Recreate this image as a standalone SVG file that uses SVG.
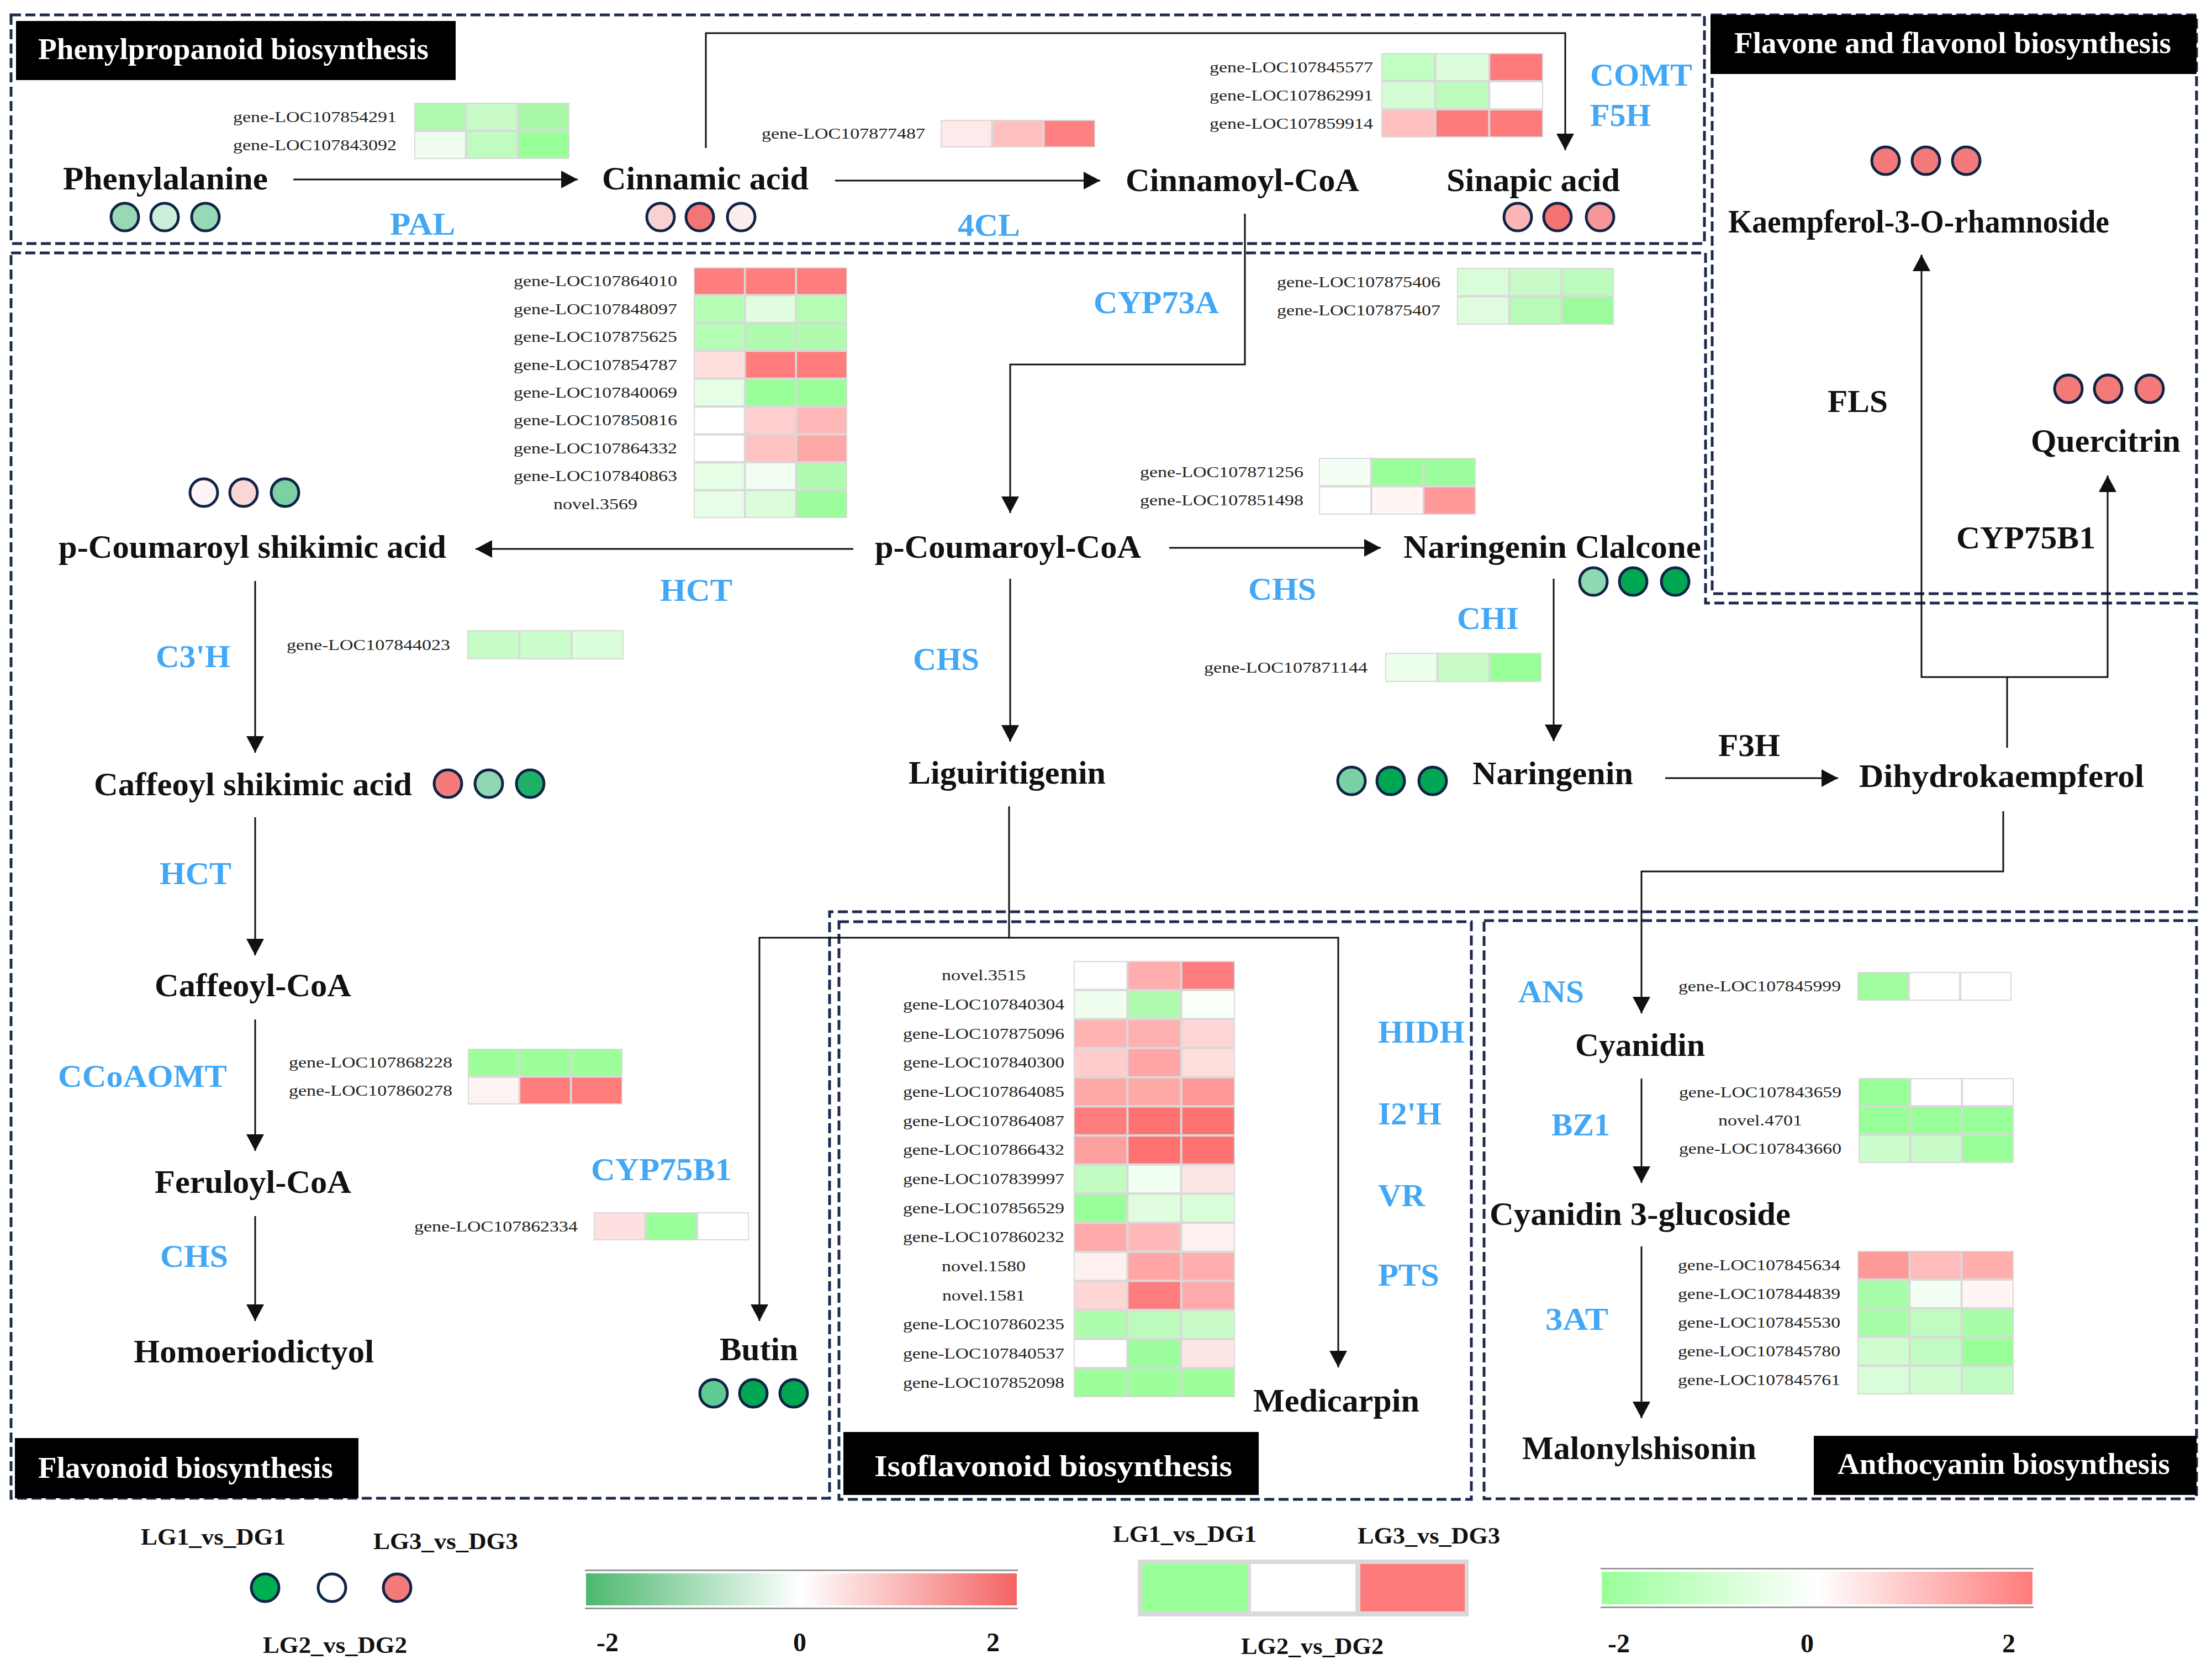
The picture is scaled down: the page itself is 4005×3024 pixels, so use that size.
<svg xmlns="http://www.w3.org/2000/svg" width="4005" height="3024" viewBox="0 0 4005 3024">
<style>
.box{fill:none;stroke:#1b2a4e;stroke-width:5;stroke-dasharray:18 8}
.tb{fill:#000}
.tt{font-family:"Liberation Serif",serif;font-weight:bold;font-size:54px;fill:#fff}
.cp{font-family:"Liberation Serif",serif;font-weight:bold;font-size:60px;fill:#111}
.en{font-family:"Liberation Serif",serif;font-weight:bold;font-size:58px;fill:#42a7f5}
.ek{font-family:"Liberation Serif",serif;font-weight:bold;font-size:58px;fill:#111}
.gl{font-family:"Liberation Serif",serif;font-size:27px;fill:#222;text-anchor:middle}
.lg{font-family:"Liberation Serif",serif;font-weight:bold;font-size:42px;fill:#111}
.nm{font-family:"Liberation Serif",serif;font-weight:bold;font-size:48px;fill:#111;text-anchor:middle}
.c{stroke:#0f2447;stroke-width:5}
.ln{fill:none;stroke:#111;stroke-width:3}
.ar{marker-end:url(#ah)}
.hb{fill:#d9d9d9}
</style>
<defs>
<marker id="ah" markerUnits="userSpaceOnUse" markerWidth="30" markerHeight="32" refX="30" refY="16" orient="auto" viewBox="0 0 30 32"><path d="M0,0 L30,16 L0,32 Z" fill="#111"/></marker>
<linearGradient id="g1" x1="0" x2="1" y1="0" y2="0"><stop offset="0" stop-color="#4cb86e"/><stop offset="0.5" stop-color="#ffffff"/><stop offset="1" stop-color="#f46464"/></linearGradient>
<linearGradient id="g2" x1="0" x2="1" y1="0" y2="0"><stop offset="0" stop-color="#99ff99"/><stop offset="0.5" stop-color="#ffffff"/><stop offset="1" stop-color="#ff7b7b"/></linearGradient>
</defs>
<rect width="4005" height="3024" fill="#fff"/>

<!-- pathway boxes -->
<g id="boxes">
<rect class="box" x="20" y="27" width="3066" height="414"/>
<rect class="box" x="3100" y="27" width="877" height="1048"/>
<path class="box" d="M20,458 H3088 V1092 H3977 V1651 H1502 V2713 H20 Z"/>
<rect class="box" x="1519" y="1669" width="1145" height="1046"/>
<rect class="box" x="2687" y="1667" width="1290" height="1047"/>
</g>

<!-- titles -->
<g id="title-phenylpropanoid"><rect class="tb" x="29" y="38" width="796" height="107"/><text class="tt" x="69" y="107" textLength="707" lengthAdjust="spacingAndGlyphs">Phenylpropanoid biosynthesis</text></g>
<g id="title-flavone"><rect class="tb" x="3097" y="27" width="880" height="107"/><text class="tt" x="3140" y="96" textLength="791" lengthAdjust="spacingAndGlyphs">Flavone and flavonol biosynthesis</text></g>
<g id="title-flavonoid"><rect class="tb" x="27" y="2604" width="622" height="109"/><text class="tt" x="69" y="2676" textLength="534" lengthAdjust="spacingAndGlyphs">Flavonoid biosynthesis</text></g>
<g id="title-isoflavonoid"><rect class="tb" x="1527" y="2593" width="752" height="114"/><text class="tt" x="1583" y="2673" textLength="648" lengthAdjust="spacingAndGlyphs">Isoflavonoid biosynthesis</text></g>
<g id="title-anthocyanin"><rect class="tb" x="3284" y="2600" width="693" height="107"/><text class="tt" x="3327" y="2669" textLength="602" lengthAdjust="spacingAndGlyphs">Anthocyanin biosynthesis</text></g>

<!-- connectors -->
<g id="connectors">
<path class="ln ar" d="M531,325 H1046"/>
<path class="ln ar" d="M1512,327 H1992"/>
<path class="ln ar" d="M1278,268 V60 H2834 V272"/>
<path class="ln ar" d="M2254,387 V660 H1829 V929"/>
<path class="ln ar" d="M1545,994 H861"/>
<path class="ln ar" d="M2117,992 H2500"/>
<path class="ln ar" d="M1829,1048 V1343"/>
<path class="ln ar" d="M2813,1048 V1342"/>
<path class="ln ar" d="M3015,1409 H3328"/>
<path class="ln" d="M3634,1354 V1226"/>
<path class="ln ar" d="M3634,1226 H3479 V461"/>
<path class="ln ar" d="M3634,1226 H3816 V861"/>
<path class="ln ar" d="M3627,1469 V1578 H2972 V1835"/>
<path class="ln ar" d="M1827,1460 V1698 H1375 V2392"/>
<path class="ln ar" d="M1827,1698 H2423 V2476"/>
<path class="ln ar" d="M462,1052 V1363"/>
<path class="ln ar" d="M462,1480 V1730"/>
<path class="ln ar" d="M462,1846 V2084"/>
<path class="ln ar" d="M462,2202 V2392"/>
<path class="ln ar" d="M2972,1953 V2142"/>
<path class="ln ar" d="M2972,2257 V2568"/>
</g>

<!-- compounds -->
<g id="phenylalanine"><text class="cp" x="114" y="343" textLength="371" lengthAdjust="spacingAndGlyphs">Phenylalanine</text>
<circle class="c" cx="226" cy="393" r="25" fill="#97d9b5"/><circle class="c" cx="298" cy="393" r="25" fill="#ccefdb"/><circle class="c" cx="372" cy="393" r="25" fill="#97d9b5"/></g>
<g id="cinnamic-acid"><text class="cp" x="1090" y="343" textLength="374" lengthAdjust="spacingAndGlyphs">Cinnamic acid</text>
<circle class="c" cx="1196" cy="393" r="25" fill="#f9d1d1"/><circle class="c" cx="1267" cy="393" r="25" fill="#f47575"/><circle class="c" cx="1342" cy="393" r="25" fill="#fcecec"/></g>
<g id="cinnamoyl-coa"><text class="cp" x="2038" y="346" textLength="423" lengthAdjust="spacingAndGlyphs">Cinnamoyl-CoA</text></g>
<g id="sinapic-acid"><text class="cp" x="2619" y="346" textLength="314" lengthAdjust="spacingAndGlyphs">Sinapic acid</text>
<circle class="c" cx="2748" cy="393" r="25" fill="#fbb5b5"/><circle class="c" cx="2820" cy="393" r="25" fill="#f47272"/><circle class="c" cx="2897" cy="393" r="25" fill="#f79696"/></g>
<g id="kaempferol"><text class="cp" x="3129" y="421" textLength="690" lengthAdjust="spacingAndGlyphs">Kaempferol-3-O-rhamnoside</text>
<circle class="c" cx="3414" cy="291" r="25" fill="#f47a7a"/><circle class="c" cx="3487" cy="291" r="25" fill="#f47a7a"/><circle class="c" cx="3560" cy="291" r="25" fill="#f47a7a"/></g>
<g id="quercitrin"><text class="cp" x="3677" y="818" textLength="271" lengthAdjust="spacingAndGlyphs">Quercitrin</text>
<circle class="c" cx="3745" cy="704" r="25" fill="#f47a7a"/><circle class="c" cx="3817" cy="704" r="25" fill="#f47a7a"/><circle class="c" cx="3892" cy="704" r="25" fill="#f47a7a"/></g>
<g id="p-coumaroyl-shikimic-acid"><text class="cp" x="106" y="1010" textLength="702" lengthAdjust="spacingAndGlyphs">p-Coumaroyl shikimic acid</text>
<circle class="c" cx="369" cy="892" r="25" fill="#fdf5f5"/><circle class="c" cx="441" cy="892" r="25" fill="#fad7d7"/><circle class="c" cx="516" cy="892" r="25" fill="#7dd0a2"/></g>
<g id="p-coumaroyl-coa"><text class="cp" x="1584" y="1010" textLength="482" lengthAdjust="spacingAndGlyphs">p-Coumaroyl-CoA</text></g>
<g id="naringenin-clalcone"><text class="cp" x="2541" y="1010" textLength="539" lengthAdjust="spacingAndGlyphs">Naringenin Clalcone</text>
<circle class="c" cx="2885" cy="1053" r="25" fill="#8ed8b2"/><circle class="c" cx="2957" cy="1053" r="25" fill="#00a651"/><circle class="c" cx="3033" cy="1053" r="25" fill="#00a651"/></g>
<g id="caffeoyl-shikimic-acid"><text class="cp" x="170" y="1440" textLength="576" lengthAdjust="spacingAndGlyphs">Caffeoyl shikimic acid</text>
<circle class="c" cx="811" cy="1419" r="25" fill="#f47a7a"/><circle class="c" cx="885" cy="1419" r="25" fill="#8fd8b2"/><circle class="c" cx="960" cy="1419" r="25" fill="#1fb067"/></g>
<g id="liguiritigenin"><text class="cp" x="1645" y="1419" textLength="357" lengthAdjust="spacingAndGlyphs">Liguiritigenin</text></g>
<g id="naringenin"><text class="cp" x="2666" y="1420" textLength="291" lengthAdjust="spacingAndGlyphs">Naringenin</text>
<circle class="c" cx="2447" cy="1414" r="25" fill="#79d1a3"/><circle class="c" cx="2518" cy="1414" r="25" fill="#00a651"/><circle class="c" cx="2594" cy="1414" r="25" fill="#00a651"/></g>
<g id="dihydrokaempferol"><text class="cp" x="3366" y="1425" textLength="516" lengthAdjust="spacingAndGlyphs">Dihydrokaempferol</text></g>
<g id="caffeoyl-coa"><text class="cp" x="280" y="1804" textLength="356" lengthAdjust="spacingAndGlyphs">Caffeoyl-CoA</text></g>
<g id="feruloyl-coa"><text class="cp" x="280" y="2160" textLength="356" lengthAdjust="spacingAndGlyphs">Feruloyl-CoA</text></g>
<g id="homoeriodictyol"><text class="cp" x="242" y="2467" textLength="435" lengthAdjust="spacingAndGlyphs">Homoeriodictyol</text></g>
<g id="butin"><text class="cp" x="1303" y="2463" textLength="142" lengthAdjust="spacingAndGlyphs">Butin</text>
<circle class="c" cx="1292" cy="2523" r="25" fill="#5fcb94"/><circle class="c" cx="1364" cy="2523" r="25" fill="#00a651"/><circle class="c" cx="1437" cy="2523" r="25" fill="#00a651"/></g>
<g id="medicarpin"><text class="cp" x="2269" y="2556" textLength="301" lengthAdjust="spacingAndGlyphs">Medicarpin</text></g>
<g id="cyanidin"><text class="cp" x="2852" y="1912" textLength="235" lengthAdjust="spacingAndGlyphs">Cyanidin</text></g>
<g id="cyanidin-3-glucoside"><text class="cp" x="2697" y="2218" textLength="545" lengthAdjust="spacingAndGlyphs">Cyanidin 3-glucoside</text></g>
<g id="malonylshisonin"><text class="cp" x="2756" y="2642" textLength="424" lengthAdjust="spacingAndGlyphs">Malonylshisonin</text></g>

<!-- enzymes with heatmaps -->
<g id="pal"><text class="en" x="706" y="425" textLength="118" lengthAdjust="spacingAndGlyphs">PAL</text>
<text class="gl" x="570" y="221" textLength="296" lengthAdjust="spacingAndGlyphs">gene-LOC107854291</text>
<text class="gl" x="570" y="272" textLength="296" lengthAdjust="spacingAndGlyphs">gene-LOC107843092</text>
<g transform="translate(750,186) scale(93.67,51)"><rect class="hb" width="3" height="2"/>
<rect x=".02" y=".04" width=".96" height=".92" fill="#b0f9b0"/><rect x="1.02" y=".04" width=".96" height=".92" fill="#c8fbc8"/><rect x="2.02" y=".04" width=".96" height=".92" fill="#a8f8a8"/>
<rect x=".02" y="1.04" width=".96" height=".92" fill="#effeef"/><rect x="1.02" y="1.04" width=".96" height=".92" fill="#c0fbc0"/><rect x="2.02" y="1.04" width=".96" height=".92" fill="#99ff99"/></g></g>

<g id="4cl"><text class="en" x="1734" y="427" textLength="113" lengthAdjust="spacingAndGlyphs">4CL</text>
<text class="gl" x="1527" y="251" textLength="296" lengthAdjust="spacingAndGlyphs">gene-LOC107877487</text>
<g transform="translate(1703,217) scale(93.33,50)"><rect class="hb" width="3" height="1"/>
<rect x=".02" y=".04" width=".96" height=".92" fill="#fdeaea"/><rect x="1.02" y=".04" width=".96" height=".92" fill="#ffc0c0"/><rect x="2.02" y=".04" width=".96" height=".92" fill="#ff8080"/></g></g>

<g id="comt-f5h"><text class="en" x="2879" y="155" textLength="185" lengthAdjust="spacingAndGlyphs">COMT</text>
<text class="en" x="2879" y="228" textLength="110" lengthAdjust="spacingAndGlyphs">F5H</text>
<text class="gl" x="2338" y="131" textLength="296" lengthAdjust="spacingAndGlyphs">gene-LOC107845577</text>
<text class="gl" x="2338" y="182" textLength="296" lengthAdjust="spacingAndGlyphs">gene-LOC107862991</text>
<text class="gl" x="2338" y="233" textLength="296" lengthAdjust="spacingAndGlyphs">gene-LOC107859914</text>
<g transform="translate(2501,96) scale(97.67,51)"><rect class="hb" width="3" height="3"/>
<rect x=".02" y=".04" width=".96" height=".92" fill="#c2fdc2"/><rect x="1.02" y=".04" width=".96" height=".92" fill="#dcfddc"/><rect x="2.02" y=".04" width=".96" height=".92" fill="#ff7b7b"/>
<rect x=".02" y="1.04" width=".96" height=".92" fill="#d5fdd5"/><rect x="1.02" y="1.04" width=".96" height=".92" fill="#bdfbbd"/><rect x="2.02" y="1.04" width=".96" height=".92" fill="#ffffff"/>
<rect x=".02" y="2.04" width=".96" height=".92" fill="#ffbfbf"/><rect x="1.02" y="2.04" width=".96" height=".92" fill="#ff7b7b"/><rect x="2.02" y="2.04" width=".96" height=".92" fill="#ff7b7b"/></g></g>

<g id="hct-top"><text class="en" x="1195" y="1088" textLength="131" lengthAdjust="spacingAndGlyphs">HCT</text>
<text class="gl" x="1078" y="518" textLength="296" lengthAdjust="spacingAndGlyphs">gene-LOC107864010</text>
<text class="gl" x="1078" y="569" textLength="296" lengthAdjust="spacingAndGlyphs">gene-LOC107848097</text>
<text class="gl" x="1078" y="619" textLength="296" lengthAdjust="spacingAndGlyphs">gene-LOC107875625</text>
<text class="gl" x="1078" y="670" textLength="296" lengthAdjust="spacingAndGlyphs">gene-LOC107854787</text>
<text class="gl" x="1078" y="720" textLength="296" lengthAdjust="spacingAndGlyphs">gene-LOC107840069</text>
<text class="gl" x="1078" y="770" textLength="296" lengthAdjust="spacingAndGlyphs">gene-LOC107850816</text>
<text class="gl" x="1078" y="821" textLength="296" lengthAdjust="spacingAndGlyphs">gene-LOC107864332</text>
<text class="gl" x="1078" y="871" textLength="296" lengthAdjust="spacingAndGlyphs">gene-LOC107840863</text>
<text class="gl" x="1078" y="922" textLength="152" lengthAdjust="spacingAndGlyphs">novel.3569</text>
<g transform="translate(1256,484) scale(92.67,50.44)"><rect class="hb" width="3" height="9"/>
<rect x=".02" y=".04" width=".96" height=".92" fill="#ff7d7d"/><rect x="1.02" y=".04" width=".96" height=".92" fill="#ff7d7d"/><rect x="2.02" y=".04" width=".96" height=".92" fill="#ff7d7d"/>
<rect x=".02" y="1.04" width=".96" height=".92" fill="#b5fdb5"/><rect x="1.02" y="1.04" width=".96" height=".92" fill="#e0fde0"/><rect x="2.02" y="1.04" width=".96" height=".92" fill="#b5fdb5"/>
<rect x=".02" y="2.04" width=".96" height=".92" fill="#b5fdb5"/><rect x="1.02" y="2.04" width=".96" height=".92" fill="#b0fbb0"/><rect x="2.02" y="2.04" width=".96" height=".92" fill="#b0fbb0"/>
<rect x=".02" y="3.04" width=".96" height=".92" fill="#ffdede"/><rect x="1.02" y="3.04" width=".96" height=".92" fill="#ff7d7d"/><rect x="2.02" y="3.04" width=".96" height=".92" fill="#ff7d7d"/>
<rect x=".02" y="4.04" width=".96" height=".92" fill="#e6fde6"/><rect x="1.02" y="4.04" width=".96" height=".92" fill="#99ff99"/><rect x="2.02" y="4.04" width=".96" height=".92" fill="#99ff99"/>
<rect x=".02" y="5.04" width=".96" height=".92" fill="#ffffff"/><rect x="1.02" y="5.04" width=".96" height=".92" fill="#ffcfcf"/><rect x="2.02" y="5.04" width=".96" height=".92" fill="#ffb8b8"/>
<rect x=".02" y="6.04" width=".96" height=".92" fill="#ffffff"/><rect x="1.02" y="6.04" width=".96" height=".92" fill="#ffc2c2"/><rect x="2.02" y="6.04" width=".96" height=".92" fill="#ffa8a8"/>
<rect x=".02" y="7.04" width=".96" height=".92" fill="#e6fde6"/><rect x="1.02" y="7.04" width=".96" height=".92" fill="#f3fef3"/><rect x="2.02" y="7.04" width=".96" height=".92" fill="#b0fbb0"/>
<rect x=".02" y="8.04" width=".96" height=".92" fill="#e8fde8"/><rect x="1.02" y="8.04" width=".96" height=".92" fill="#dcfddc"/><rect x="2.02" y="8.04" width=".96" height=".92" fill="#9cfd9c"/></g></g>

<g id="cyp73a"><text class="en" x="1980" y="567" textLength="227" lengthAdjust="spacingAndGlyphs">CYP73A</text>
<text class="gl" x="2460" y="520" textLength="296" lengthAdjust="spacingAndGlyphs">gene-LOC107875406</text>
<text class="gl" x="2460" y="571" textLength="296" lengthAdjust="spacingAndGlyphs">gene-LOC107875407</text>
<g transform="translate(2638,485) scale(94.67,51.5)"><rect class="hb" width="3" height="2"/>
<rect x=".02" y=".04" width=".96" height=".92" fill="#d8fdd8"/><rect x="1.02" y=".04" width=".96" height=".92" fill="#c8fbc8"/><rect x="2.02" y=".04" width=".96" height=".92" fill="#bcfbbc"/>
<rect x=".02" y="1.04" width=".96" height=".92" fill="#e0fde0"/><rect x="1.02" y="1.04" width=".96" height=".92" fill="#b8fbb8"/><rect x="2.02" y="1.04" width=".96" height=".92" fill="#9cfb9c"/></g></g>

<g id="chs-top"><text class="en" x="2260" y="1086" textLength="123" lengthAdjust="spacingAndGlyphs">CHS</text>
<text class="gl" x="2212" y="864" textLength="296" lengthAdjust="spacingAndGlyphs">gene-LOC107871256</text>
<text class="gl" x="2212" y="915" textLength="296" lengthAdjust="spacingAndGlyphs">gene-LOC107851498</text>
<g transform="translate(2388,829) scale(94.67,51.5)"><rect class="hb" width="3" height="2"/>
<rect x=".02" y=".04" width=".96" height=".92" fill="#f5fef5"/><rect x="1.02" y=".04" width=".96" height=".92" fill="#99ff99"/><rect x="2.02" y=".04" width=".96" height=".92" fill="#9cfd9c"/>
<rect x=".02" y="1.04" width=".96" height=".92" fill="#ffffff"/><rect x="1.02" y="1.04" width=".96" height=".92" fill="#fff5f5"/><rect x="2.02" y="1.04" width=".96" height=".92" fill="#ff9898"/></g></g>

<g id="chi"><text class="en" x="2638" y="1139" textLength="112" lengthAdjust="spacingAndGlyphs">CHI</text>
<text class="gl" x="2328" y="1218" textLength="296" lengthAdjust="spacingAndGlyphs">gene-LOC107871144</text>
<g transform="translate(2508,1182) scale(94.33,53)"><rect class="hb" width="3" height="1"/>
<rect x=".02" y=".04" width=".96" height=".92" fill="#ecfeec"/><rect x="1.02" y=".04" width=".96" height=".92" fill="#c8fbc8"/><rect x="2.02" y=".04" width=".96" height=".92" fill="#99ff99"/></g></g>

<g id="chs-mid"><text class="en" x="1653" y="1213" textLength="120" lengthAdjust="spacingAndGlyphs">CHS</text></g>
<g id="f3h"><text class="ek" x="3111" y="1369" textLength="112" lengthAdjust="spacingAndGlyphs">F3H</text></g>
<g id="fls"><text class="ek" x="3309" y="746" textLength="109" lengthAdjust="spacingAndGlyphs">FLS</text></g>
<g id="cyp75b1-right"><text class="ek" x="3542" y="993" textLength="252" lengthAdjust="spacingAndGlyphs">CYP75B1</text></g>

<g id="c3h"><text class="en" x="282" y="1208" textLength="135" lengthAdjust="spacingAndGlyphs">C3'H</text>
<text class="gl" x="667" y="1177" textLength="296" lengthAdjust="spacingAndGlyphs">gene-LOC107844023</text>
<g transform="translate(846,1141) scale(94.33,53)"><rect class="hb" width="3" height="1"/>
<rect x=".02" y=".04" width=".96" height=".92" fill="#c6fdc6"/><rect x="1.02" y=".04" width=".96" height=".92" fill="#ccfdcc"/><rect x="2.02" y=".04" width=".96" height=".92" fill="#dafdda"/></g></g>

<g id="hct-left"><text class="en" x="289" y="1601" textLength="130" lengthAdjust="spacingAndGlyphs">HCT</text></g>

<g id="ccoaomt"><text class="en" x="105" y="1968" textLength="306" lengthAdjust="spacingAndGlyphs">CCoAOMT</text>
<text class="gl" x="671" y="1933" textLength="296" lengthAdjust="spacingAndGlyphs">gene-LOC107868228</text>
<text class="gl" x="671" y="1984" textLength="296" lengthAdjust="spacingAndGlyphs">gene-LOC107860278</text>
<g transform="translate(847,1899) scale(93.33,50.5)"><rect class="hb" width="3" height="2"/>
<rect x=".02" y=".04" width=".96" height=".92" fill="#9cff9c"/><rect x="1.02" y=".04" width=".96" height=".92" fill="#9cff9c"/><rect x="2.02" y=".04" width=".96" height=".92" fill="#9cff9c"/>
<rect x=".02" y="1.04" width=".96" height=".92" fill="#fdf3f3"/><rect x="1.02" y="1.04" width=".96" height=".92" fill="#ff7d7d"/><rect x="2.02" y="1.04" width=".96" height=".92" fill="#ff7d7d"/></g></g>

<g id="chs-left"><text class="en" x="290" y="2294" textLength="123" lengthAdjust="spacingAndGlyphs">CHS</text></g>

<g id="cyp75b1-left"><text class="en" x="1070" y="2137" textLength="255" lengthAdjust="spacingAndGlyphs">CYP75B1</text>
<text class="gl" x="898" y="2230" textLength="296" lengthAdjust="spacingAndGlyphs">gene-LOC107862334</text>
<g transform="translate(1075,2195) scale(93.67,51)"><rect class="hb" width="3" height="1"/>
<rect x=".02" y=".04" width=".96" height=".92" fill="#ffe0e0"/><rect x="1.02" y=".04" width=".96" height=".92" fill="#99ff99"/><rect x="2.02" y=".04" width=".96" height=".92" fill="#ffffff"/></g></g>

<g id="isoflavonoid-enzymes">
<text class="en" x="2495" y="1888" textLength="157" lengthAdjust="spacingAndGlyphs">HIDH</text>
<text class="en" x="2495" y="2036" textLength="115" lengthAdjust="spacingAndGlyphs">I2'H</text>
<text class="en" x="2495" y="2184" textLength="85" lengthAdjust="spacingAndGlyphs">VR</text>
<text class="en" x="2495" y="2328" textLength="111" lengthAdjust="spacingAndGlyphs">PTS</text>
<text class="gl" x="1781" y="1775" textLength="152" lengthAdjust="spacingAndGlyphs">novel.3515</text>
<text class="gl" x="1781" y="1828" textLength="292" lengthAdjust="spacingAndGlyphs">gene-LOC107840304</text>
<text class="gl" x="1781" y="1881" textLength="292" lengthAdjust="spacingAndGlyphs">gene-LOC107875096</text>
<text class="gl" x="1781" y="1933" textLength="292" lengthAdjust="spacingAndGlyphs">gene-LOC107840300</text>
<text class="gl" x="1781" y="1986" textLength="292" lengthAdjust="spacingAndGlyphs">gene-LOC107864085</text>
<text class="gl" x="1781" y="2039" textLength="292" lengthAdjust="spacingAndGlyphs">gene-LOC107864087</text>
<text class="gl" x="1781" y="2091" textLength="292" lengthAdjust="spacingAndGlyphs">gene-LOC107866432</text>
<text class="gl" x="1781" y="2144" textLength="292" lengthAdjust="spacingAndGlyphs">gene-LOC107839997</text>
<text class="gl" x="1781" y="2197" textLength="292" lengthAdjust="spacingAndGlyphs">gene-LOC107856529</text>
<text class="gl" x="1781" y="2249" textLength="292" lengthAdjust="spacingAndGlyphs">gene-LOC107860232</text>
<text class="gl" x="1781" y="2302" textLength="152" lengthAdjust="spacingAndGlyphs">novel.1580</text>
<text class="gl" x="1781" y="2355" textLength="150" lengthAdjust="spacingAndGlyphs">novel.1581</text>
<text class="gl" x="1781" y="2407" textLength="292" lengthAdjust="spacingAndGlyphs">gene-LOC107860235</text>
<text class="gl" x="1781" y="2460" textLength="292" lengthAdjust="spacingAndGlyphs">gene-LOC107840537</text>
<text class="gl" x="1781" y="2513" textLength="292" lengthAdjust="spacingAndGlyphs">gene-LOC107852098</text>
<g transform="translate(1944,1740) scale(97.33,52.67)"><rect class="hb" width="3" height="15"/>
<rect x=".02" y=".04" width=".96" height=".92" fill="#ffffff"/><rect x="1.02" y=".04" width=".96" height=".92" fill="#ffadad"/><rect x="2.02" y=".04" width=".96" height=".92" fill="#ff7d7d"/>
<rect x=".02" y="1.04" width=".96" height=".92" fill="#effeef"/><rect x="1.02" y="1.04" width=".96" height=".92" fill="#b0fbb0"/><rect x="2.02" y="1.04" width=".96" height=".92" fill="#fafffa"/>
<rect x=".02" y="2.04" width=".96" height=".92" fill="#ffb3b3"/><rect x="1.02" y="2.04" width=".96" height=".92" fill="#ffb0b0"/><rect x="2.02" y="2.04" width=".96" height=".92" fill="#ffd4d4"/>
<rect x=".02" y="3.04" width=".96" height=".92" fill="#ffcdcd"/><rect x="1.02" y="3.04" width=".96" height=".92" fill="#ffa5a5"/><rect x="2.02" y="3.04" width=".96" height=".92" fill="#ffdede"/>
<rect x=".02" y="4.04" width=".96" height=".92" fill="#ffa8a8"/><rect x="1.02" y="4.04" width=".96" height=".92" fill="#ffa8a8"/><rect x="2.02" y="4.04" width=".96" height=".92" fill="#ff9898"/>
<rect x=".02" y="5.04" width=".96" height=".92" fill="#ff7d7d"/><rect x="1.02" y="5.04" width=".96" height=".92" fill="#ff7272"/><rect x="2.02" y="5.04" width=".96" height=".92" fill="#ff7272"/>
<rect x=".02" y="6.04" width=".96" height=".92" fill="#ffa0a0"/><rect x="1.02" y="6.04" width=".96" height=".92" fill="#ff7272"/><rect x="2.02" y="6.04" width=".96" height=".92" fill="#ff7272"/>
<rect x=".02" y="7.04" width=".96" height=".92" fill="#c2fbc2"/><rect x="1.02" y="7.04" width=".96" height=".92" fill="#f0fff0"/><rect x="2.02" y="7.04" width=".96" height=".92" fill="#ffe6e6"/>
<rect x=".02" y="8.04" width=".96" height=".92" fill="#99ff99"/><rect x="1.02" y="8.04" width=".96" height=".92" fill="#e0fde0"/><rect x="2.02" y="8.04" width=".96" height=".92" fill="#dafdda"/>
<rect x=".02" y="9.04" width=".96" height=".92" fill="#ffaaaa"/><rect x="1.02" y="9.04" width=".96" height=".92" fill="#ffb8b8"/><rect x="2.02" y="9.04" width=".96" height=".92" fill="#fff0f0"/>
<rect x=".02" y="10.04" width=".96" height=".92" fill="#fff0f0"/><rect x="1.02" y="10.04" width=".96" height=".92" fill="#ffa5a5"/><rect x="2.02" y="10.04" width=".96" height=".92" fill="#ffadad"/>
<rect x=".02" y="11.04" width=".96" height=".92" fill="#ffd6d6"/><rect x="1.02" y="11.04" width=".96" height=".92" fill="#ff7d7d"/><rect x="2.02" y="11.04" width=".96" height=".92" fill="#ffaaaa"/>
<rect x=".02" y="12.04" width=".96" height=".92" fill="#aefdae"/><rect x="1.02" y="12.04" width=".96" height=".92" fill="#bcfbbc"/><rect x="2.02" y="12.04" width=".96" height=".92" fill="#c8fbc8"/>
<rect x=".02" y="13.04" width=".96" height=".92" fill="#ffffff"/><rect x="1.02" y="13.04" width=".96" height=".92" fill="#9cfd9c"/><rect x="2.02" y="13.04" width=".96" height=".92" fill="#ffe6e6"/>
<rect x=".02" y="14.04" width=".96" height=".92" fill="#9cff9c"/><rect x="1.02" y="14.04" width=".96" height=".92" fill="#9cff9c"/><rect x="2.02" y="14.04" width=".96" height=".92" fill="#9cff9c"/></g></g>

<g id="ans"><text class="en" x="2749" y="1815" textLength="119" lengthAdjust="spacingAndGlyphs">ANS</text>
<text class="gl" x="3186" y="1795" textLength="294" lengthAdjust="spacingAndGlyphs">gene-LOC107845999</text>
<g transform="translate(3363,1760) scale(93,52)"><rect class="hb" width="3" height="1"/>
<rect x=".02" y=".04" width=".96" height=".92" fill="#a0fda0"/><rect x="1.02" y=".04" width=".96" height=".92" fill="#ffffff"/><rect x="2.02" y=".04" width=".96" height=".92" fill="#ffffff"/></g></g>

<g id="bz1"><text class="en" x="2809" y="2056" textLength="106" lengthAdjust="spacingAndGlyphs">BZ1</text>
<text class="gl" x="3187" y="1987" textLength="294" lengthAdjust="spacingAndGlyphs">gene-LOC107843659</text>
<text class="gl" x="3187" y="2038" textLength="152" lengthAdjust="spacingAndGlyphs">novel.4701</text>
<text class="gl" x="3187" y="2089" textLength="294" lengthAdjust="spacingAndGlyphs">gene-LOC107843660</text>
<g transform="translate(3365,1952) scale(93.67,51.33)"><rect class="hb" width="3" height="3"/>
<rect x=".02" y=".04" width=".96" height=".92" fill="#99ff99"/><rect x="1.02" y=".04" width=".96" height=".92" fill="#ffffff"/><rect x="2.02" y=".04" width=".96" height=".92" fill="#ffffff"/>
<rect x=".02" y="1.04" width=".96" height=".92" fill="#99ff99"/><rect x="1.02" y="1.04" width=".96" height=".92" fill="#99ff99"/><rect x="2.02" y="1.04" width=".96" height=".92" fill="#99ff99"/>
<rect x=".02" y="2.04" width=".96" height=".92" fill="#cdfdcd"/><rect x="1.02" y="2.04" width=".96" height=".92" fill="#c8fbc8"/><rect x="2.02" y="2.04" width=".96" height=".92" fill="#99ff99"/></g></g>

<g id="3at"><text class="en" x="2798" y="2408" textLength="114" lengthAdjust="spacingAndGlyphs">3AT</text>
<text class="gl" x="3185" y="2300" textLength="294" lengthAdjust="spacingAndGlyphs">gene-LOC107845634</text>
<text class="gl" x="3185" y="2352" textLength="294" lengthAdjust="spacingAndGlyphs">gene-LOC107844839</text>
<text class="gl" x="3185" y="2404" textLength="294" lengthAdjust="spacingAndGlyphs">gene-LOC107845530</text>
<text class="gl" x="3185" y="2456" textLength="294" lengthAdjust="spacingAndGlyphs">gene-LOC107845780</text>
<text class="gl" x="3185" y="2508" textLength="294" lengthAdjust="spacingAndGlyphs">gene-LOC107845761</text>
<g transform="translate(3363,2265) scale(94.33,52)"><rect class="hb" width="3" height="5"/>
<rect x=".02" y=".04" width=".96" height=".92" fill="#ff9a9a"/><rect x="1.02" y=".04" width=".96" height=".92" fill="#ffbcbc"/><rect x="2.02" y=".04" width=".96" height=".92" fill="#ffadad"/>
<rect x=".02" y="1.04" width=".96" height=".92" fill="#a8fda8"/><rect x="1.02" y="1.04" width=".96" height=".92" fill="#f3fef3"/><rect x="2.02" y="1.04" width=".96" height=".92" fill="#fff5f5"/>
<rect x=".02" y="2.04" width=".96" height=".92" fill="#a8fda8"/><rect x="1.02" y="2.04" width=".96" height=".92" fill="#c0fbc0"/><rect x="2.02" y="2.04" width=".96" height=".92" fill="#a8fda8"/>
<rect x=".02" y="3.04" width=".96" height=".92" fill="#d0fdd0"/><rect x="1.02" y="3.04" width=".96" height=".92" fill="#c2fbc2"/><rect x="2.02" y="3.04" width=".96" height=".92" fill="#99ff99"/>
<rect x=".02" y="4.04" width=".96" height=".92" fill="#d8fdd8"/><rect x="1.02" y="4.04" width=".96" height=".92" fill="#d0fdd0"/><rect x="2.02" y="4.04" width=".96" height=".92" fill="#c2fbc2"/></g></g>

<!-- legends -->
<g id="legend-circles">
<text class="lg" x="255" y="2797" textLength="262" lengthAdjust="spacingAndGlyphs">LG1_vs_DG1</text>
<text class="lg" x="676" y="2805" textLength="262" lengthAdjust="spacingAndGlyphs">LG3_vs_DG3</text>
<text class="lg" x="476" y="2993" textLength="261" lengthAdjust="spacingAndGlyphs">LG2_vs_DG2</text>
<circle class="c" cx="480" cy="2875" r="25" fill="#00b050"/><circle class="c" cx="601" cy="2875" r="25" fill="#ffffff"/><circle class="c" cx="719" cy="2875" r="25" fill="#f47a7a"/>
</g>
<g id="legend-scale-1">
<rect x="1059" y="2842" width="784" height="72" fill="#9a9a9a"/>
<rect x="1059" y="2845" width="784" height="66" fill="#ffffff"/>
<rect x="1061" y="2849" width="780" height="58" fill="url(#g1)"/>
<text class="nm" x="1100" y="2990">-2</text><text class="nm" x="1448" y="2990">0</text><text class="nm" x="1798" y="2990">2</text>
</g>
<g id="legend-heatmap">
<text class="lg" x="2015" y="2792" textLength="260" lengthAdjust="spacingAndGlyphs">LG1_vs_DG1</text>
<text class="lg" x="2458" y="2795" textLength="258" lengthAdjust="spacingAndGlyphs">LG3_vs_DG3</text>
<text class="lg" x="2247" y="2995" textLength="258" lengthAdjust="spacingAndGlyphs">LG2_vs_DG2</text>
<rect x="2060" y="2824" width="599" height="103" fill="#d9d9d9"/>
<rect x="2068" y="2832" width="190" height="86" fill="#99ff99"/>
<rect x="2265" y="2832" width="189" height="86" fill="#ffffff"/>
<rect x="2463" y="2832" width="189" height="86" fill="#ff7b7b"/>
</g>
<g id="legend-scale-2">
<rect x="2898" y="2839" width="784" height="73" fill="#9a9a9a"/>
<rect x="2898" y="2842" width="784" height="67" fill="#ffffff"/>
<rect x="2900" y="2846" width="780" height="59" fill="url(#g2)"/>
<text class="nm" x="2931" y="2992">-2</text><text class="nm" x="3272" y="2992">0</text><text class="nm" x="3637" y="2992">2</text>
</g>
</svg>
